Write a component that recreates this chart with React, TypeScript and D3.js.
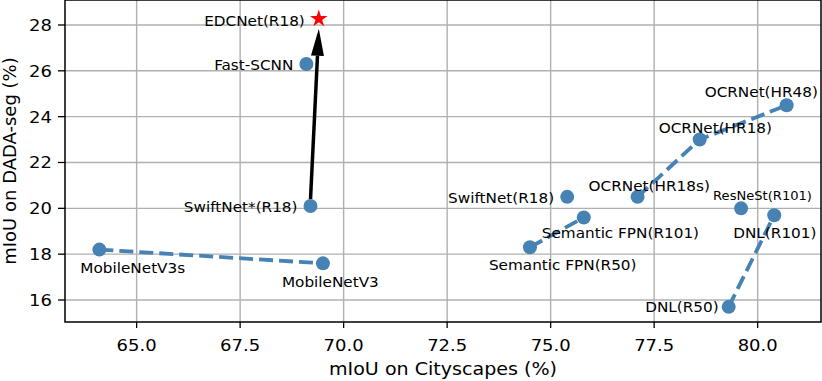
import React from 'react';
import * as d3 from 'd3';

// mIoU on Cityscapes (x) vs mIoU on DADA-seg (y)
const names = [
  'Fast-SCNN',
  'SwiftNet*(R18)',
  'MobileNetV3s',
  'MobileNetV3',
  'SwiftNet(R18)',
  'Semantic FPN(R101)',
  'Semantic FPN(R50)',
  'OCRNet(HR18s)',
  'OCRNet(HR18)',
  'OCRNet(HR48)',
  'ResNeSt(R101)',
  'DNL(R101)',
  'DNL(R50)',
];
const cityscapes = [69.1, 69.2, 64.1, 69.5, 75.4, 75.8, 74.5, 77.1, 78.6, 80.7, 79.6, 80.4, 79.3];
const dadaSeg = [26.3, 20.1, 18.2, 17.6, 20.5, 19.6, 18.3, 20.5, 23.0, 24.5, 20.0, 19.7, 15.7];

const ours = { name: 'EDCNet(R18)', x: 69.4, y: 28.27 };

// dashed connections between model families
const groups = [
  ['MobileNetV3s', 'MobileNetV3'],
  ['Semantic FPN(R50)', 'Semantic FPN(R101)'],
  ['OCRNet(HR18s)', 'OCRNet(HR18)', 'OCRNet(HR48)'],
  ['DNL(R50)', 'DNL(R101)'],
];

const xTicks = [65, 67.5, 70, 72.5, 75, 77.5, 80];
const yTicks = [16, 18, 20, 22, 24, 26, 28];

// label placement: dx, dy (to text middle) from the point, anchor, font size
const labelPos: Record<string, [number, number, string, number]> = {
  'Fast-SCNN': [-13, 1, 'end', 14],
  'SwiftNet*(R18)': [-13, 1, 'end', 14],
  'MobileNetV3s': [-19, 18, 'start', 14],
  'MobileNetV3': [-41, 18, 'start', 14],
  'SwiftNet(R18)': [-13, 1, 'end', 14],
  'Semantic FPN(R101)': [-42, 15, 'start', 14],
  'Semantic FPN(R50)': [-41, 17, 'start', 14],
  'OCRNet(HR18s)': [-49, -11, 'start', 14],
  'OCRNet(HR18)': [-41, -12, 'start', 14],
  'OCRNet(HR48)': [-82, -13, 'start', 14],
  'ResNeSt(R101)': [-28, -13, 'start', 12],
  'DNL(R101)': [-41, 18, 'start', 14],
  'DNL(R50)': [-10, 0, 'end', 14],
};

const W = 822;
const H = 381;
const margin = { top: 0, right: 1, bottom: 59, left: 65 };
const color = '#4682b4';
const font = 'DejaVu Sans, sans-serif';
const sx = 1.09; // the picture is a little wider than tall

const T = ({ x, y, anchor = 'middle', size, base = 'central', children }: any) => (
  <text
    transform={`translate(${x},${y}) scale(${sx},1)`}
    textAnchor={anchor}
    dominantBaseline={base}
    fontSize={size}
    fill="#000"
  >
    {children}
  </text>
);

const App = () => {
  const x = d3.scaleLinear().domain([63.27, 81.53]).range([margin.left, W - margin.right]);
  const y = d3.scaleLinear().domain([15.04, 29.09]).range([H - margin.bottom, margin.top]);

  const pts = names.map((n, i) => ({ name: n, x: cityscapes[i], y: dadaSeg[i] }));
  const byName = new Map(pts.map((p) => [p.name, p]));
  const line = d3
    .line<{ x: number; y: number }>()
    .x((d) => x(d.x))
    .y((d) => y(d.y));

  const star = d3.symbol().type(d3.symbolStar).size(95)();

  // arrow from SwiftNet*(R18) to EDCNet
  const sw = byName.get('SwiftNet*(R18)')!;
  const x0 = x(sw.x);
  const y0 = y(sw.y) - 7;
  const x1 = x(ours.x);
  const y1 = y(ours.y) + 10;
  const ang = Math.atan2(y1 - y0, x1 - x0);
  const headLen = 27;
  const headW = 6.5;
  const bx = x1 - headLen * Math.cos(ang);
  const by = y1 - headLen * Math.sin(ang);
  const px = -Math.sin(ang);
  const py = Math.cos(ang);
  const head = `M${x1},${y1}L${bx + headW * px},${by + headW * py}L${bx - headW * px},${by - headW * py}Z`;

  const left = margin.left;
  const right = W - margin.right;
  const top = margin.top;
  const bottom = H - margin.bottom;

  return (
    <svg
      width={W}
      height={H}
      style={{ position: 'absolute', left: 0, top: 0, background: '#fff' }}
      fontFamily={font}
    >
      <g>
        {xTicks.map((t) => (
          <line key={'gx' + t} x1={x(t)} x2={x(t)} y1={top} y2={bottom} stroke="#b0b0b0" strokeWidth={1.4} />
        ))}
        {yTicks.map((t) => (
          <line key={'gy' + t} x1={left} x2={right} y1={y(t)} y2={y(t)} stroke="#b0b0b0" strokeWidth={1.4} />
        ))}
      </g>

      {groups.map((g, i) => (
        <path
          key={'l' + i}
          d={line(g.map((n) => byName.get(n)!)) || ''}
          fill="none"
          stroke={color}
          strokeWidth={3.8}
          strokeDasharray="14,6"
        />
      ))}

      <line x1={x0} y1={y0} x2={bx} y2={by} stroke="#000" strokeWidth={3.5} />
      <path d={head} fill="#000" />

      {pts.map((p) => (
        <circle key={p.name} cx={x(p.x)} cy={y(p.y)} r={7} fill={color} />
      ))}
      <path d={star} transform={`translate(${x(ours.x)},${y(ours.y)})`} fill="red" />

      {pts.map((p) => {
        const [dx, dy, anchor, fs] = labelPos[p.name];
        return (
          <T key={'t' + p.name} x={x(p.x) + dx} y={y(p.y) + dy} anchor={anchor} size={fs}>
            {p.name}
          </T>
        );
      })}
      <T x={x(ours.x) - 14} y={y(ours.y) + 2} anchor="end" size={14}>
        {ours.name}
      </T>

      <rect x={left} y={top} width={right - left} height={bottom - top} fill="none" stroke="#000" strokeWidth={1.5} />

      {xTicks.map((t) => (
        <g key={'xt' + t}>
          <line x1={x(t)} x2={x(t)} y1={bottom} y2={bottom + 6} stroke="#000" strokeWidth={1.3} />
          <T x={x(t)} y={bottom + 29} base="auto" size={16.5}>
            {t.toFixed(1)}
          </T>
        </g>
      ))}
      {yTicks.map((t) => (
        <g key={'yt' + t}>
          <line x1={left - 7} x2={left} y1={y(t)} y2={y(t)} stroke="#000" strokeWidth={1.3} />
          <T x={left - 13} y={y(t) + 6} anchor="end" base="auto" size={16.5}>
            {t}
          </T>
        </g>
      ))}

      <T x={(left + right) / 2} y={375} base="auto" size={17.5}>
        mIoU on Cityscapes (%)
      </T>
      <text transform={`translate(16,${(top + bottom) / 2}) rotate(-90)`} textAnchor="middle" fontSize={18}>
        mIoU on DADA-seg (%)
      </text>
    </svg>
  );
};

export default App;
